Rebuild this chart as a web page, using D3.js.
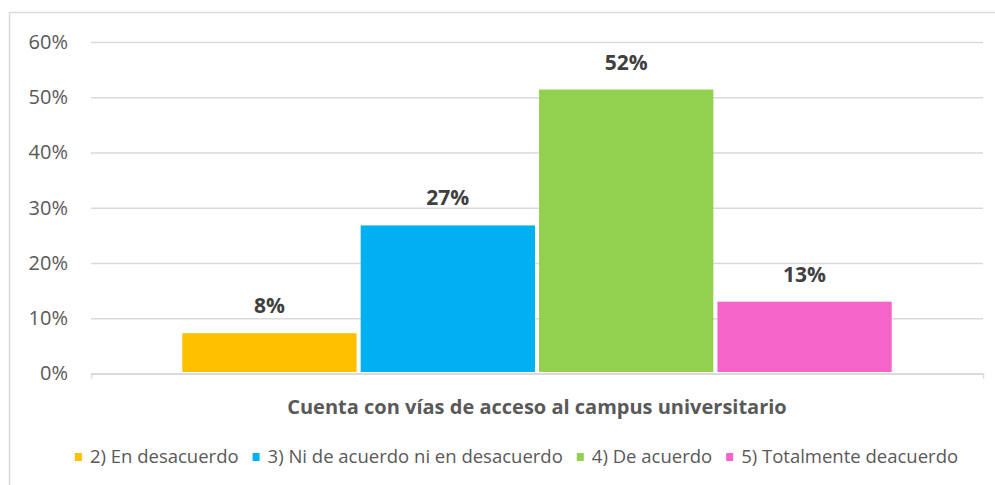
<!DOCTYPE html>
<html>
<head>
<meta charset="utf-8">
<script src="https://cdn.jsdelivr.net/npm/d3@7"></script>
<style>
  html, body { margin: 0; padding: 0; background: #fff; }
  svg text { font-family: "Open Sans", Lato, sans-serif; }
</style>
</head>
<body>
<svg id="chart" width="995" height="485"></svg>
<script>
(() => {
    // data
    const category = "Cuenta con vías de acceso al campus universitario";
    const series = ["2) En desacuerdo", "3) Ni de acuerdo ni en desacuerdo", "4) De acuerdo", "5) Totalmente deacuerdo"];
    const values = [0.073, 0.268, 0.514, 0.13];
    const valueLabels = ["8%", "27%", "52%", "13%"];
    const yTicks = [0, 0.1, 0.2, 0.3, 0.4, 0.5, 0.6];
    const colors = ["#FFC000", "#00B0F0", "#92D050", "#F564C9"];

    const svg = d3.select("#chart");
    const plot = { left: 91, right: 983, top: 42, bottom: 373.5 };

    // chart area border
    svg.append("rect")
        .attr("x", 9.5)
        .attr("y", 12.5)
        .attr("width", 1000)
        .attr("height", 500)
        .attr("fill", "#fff")
        .attr("stroke", "#d9d9d9")
        .attr("stroke-width", 1.5);

    const y = d3.scaleLinear()
        .domain([0, 0.6])
        .range([plot.bottom, plot.top]);

    const x = d3.scaleBand()
        .domain([category])
        .range([plot.left, plot.right])
        .padding(0.114);

    const xs = d3.scaleBand()
        .domain(series)
        .range([0, x.bandwidth()])
        .paddingInner(0.023)
        .paddingOuter(0);

    // gridlines + tick labels
    const yAxis = svg.append("g")
        .attr("transform", `translate(${plot.left},0)`)
        .call(d3.axisLeft(y)
            .tickValues(yTicks)
            .tickSize(-(plot.right - plot.left))
            .tickPadding(23)
            .tickFormat(d3.format(".0%")));
    yAxis.select(".domain").remove();
    yAxis.selectAll(".tick line")
        .attr("stroke", "#d9d9d9")
        .attr("stroke-width", 1.5);
    yAxis.selectAll(".tick text")
        .attr("fill", "#595959")
        .style("font-size", "20px");

    // bars
    const group = svg.append("g")
        .attr("transform", `translate(${x(category)},0)`);

    group.selectAll("rect")
        .data(series)
        .enter()
        .append("rect")
        .attr("x", d => xs(d))
        .attr("y", (d, i) => y(values[i]))
        .attr("width", xs.bandwidth())
        .attr("height", (d, i) => y(0) - y(values[i]) - 1.5)
        .attr("fill", (d, i) => colors[i]);

    group.selectAll(".label")
        .data(series)
        .enter()
        .append("text")
        .attr("class", "label")
        .attr("x", d => xs(d) + xs.bandwidth() / 2)
        .attr("y", (d, i) => y(values[i]) - 20)
        .attr("text-anchor", "middle")
        .attr("fill", "#404040")
        .style("font-size", "21px")
        .style("font-weight", "bold")
        .text((d, i) => valueLabels[i]);

    // category axis line with end ticks
    const xAxis = svg.append("g")
        .attr("transform", `translate(0,${plot.bottom})`)
        .call(d3.axisBottom(x).tickSizeInner(0).tickSizeOuter(5).tickFormat(""));
    xAxis.select(".domain")
        .attr("stroke", "#d9d9d9")
        .attr("stroke-width", 1.5);
    xAxis.selectAll(".tick").remove();

    // axis title
    svg.append("text")
        .attr("x", x(category) + x.bandwidth() / 2)
        .attr("y", 414)
        .attr("text-anchor", "middle")
        .attr("fill", "#595959")
        .style("font-size", "20px")
        .style("font-weight", "bold")
        .text(category);

    // legend
    const legend = svg.append("g");
    let cursor = 0;
    series.forEach((s, i) => {
        const item = legend.append("g").attr("transform", `translate(${cursor},0)`);
        item.append("rect")
            .attr("x", 0)
            .attr("y", -4)
            .attr("width", 7)
            .attr("height", 8)
            .attr("fill", colors[i]);
        const t = item.append("text")
            .attr("x", 15)
            .attr("y", 0)
            .attr("dy", "0.35em")
            .attr("fill", "#595959")
            .style("font-size", "18.5px")
            .text(s);
        cursor += 15 + t.node().getComputedTextLength() + 14;
    });
    const legendWidth = cursor - 14;
    legend.attr("transform", `translate(${516.5 - legendWidth / 2},457)`);
})();
</script>
</body>
</html>
